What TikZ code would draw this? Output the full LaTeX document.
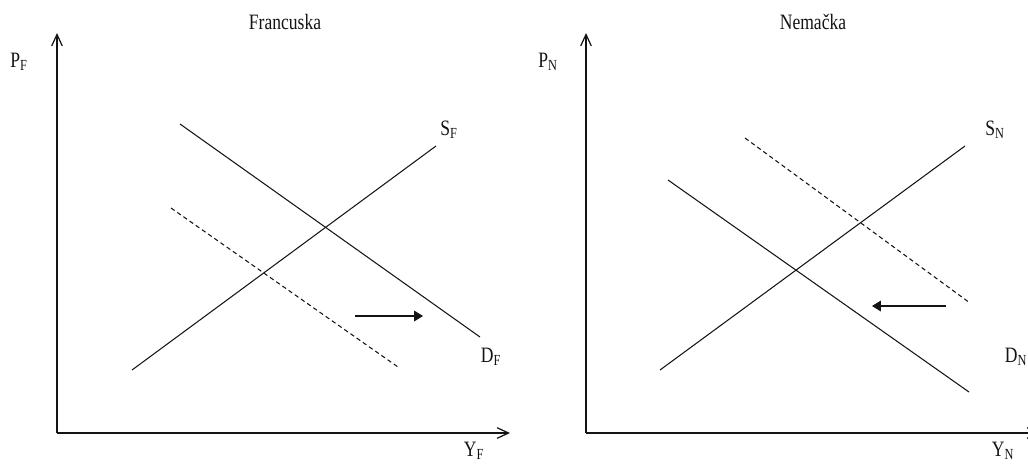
\documentclass[tikz,border=0pt]{standalone}
\usepackage{fontspec}
\setmainfont{Liberation Serif}
\usepackage{tikz}
\usetikzlibrary{arrows.meta}
\definecolor{linegray}{RGB}{20,20,20}

\tikzset{
  axis/.style={line width=0.7pt, -{Straight Barb[length=6.5pt, width=6pt]}},
  curve/.style={line width=0.6pt},
  shifted/.style={line width=0.6pt, dash pattern=on 2.5pt off 1.8pt},
  movearrow/.style={line width=0.7pt, -{Triangle[length=5pt, width=6pt]}},
  lbl/.style={font=\fontsize{12.5}{14}\selectfont, inner sep=0pt, xscale=0.8}
}

\begin{document}
\begin{tikzpicture}[x=0.02cm, y=-0.02cm, color=linegray]
  \useasboundingbox (0,0) rectangle (1028,464);
  % Francuska
  \coordinate (oF) at (57,433);
  \coordinate (yF) at (57,33);
  \coordinate (xF) at (510,433);
  \draw[axis] (oF) -- (yF);
  \draw[axis] (oF) -- (xF);
  \node[lbl] (titleF) at (285,22) {Francuska};
  \node[lbl] (pF) at (19,62) {P\textsubscript{F}};
  \node[lbl] (qF) at (474,451) {Y\textsubscript{F}};
  \coordinate (sF1) at (132,370);
  \coordinate (sF2) at (436,146);
  \draw[curve] (sF1) -- (sF2);
  \node[lbl] (sFl) at (449,130) {S\textsubscript{F}};
  \coordinate (dF1) at (180,124);
  \coordinate (dF2) at (480,337);
  \draw[curve] (dF1) -- (dF2);
  \node[lbl] (dFl) at (491,357) {D\textsubscript{F}};
  \coordinate (eF1) at (171,208);
  \coordinate (eF2) at (398,367);
  \draw[shifted] (eF1) -- (eF2);
  \coordinate (aF1) at (355,316);
  \coordinate (aF2) at (423,316);
  \draw[movearrow] (aF1) -- (aF2);
  % Nemacka
  \coordinate (oN) at (586,433);
  \coordinate (yN) at (586,33);
  \coordinate (xN) at (1040,433);
  \draw[axis] (oN) -- (yN);
  \draw[axis] (oN) -- (xN);
  \node[lbl] (titleN) at (813,22) {Nemačka};
  \node[lbl] (pN) at (548,62) {P\textsubscript{N}};
  \node[lbl] (qN) at (1003,451) {Y\textsubscript{N}};
  \coordinate (sN1) at (660,370);
  \coordinate (sN2) at (965,146);
  \draw[curve] (sN1) -- (sN2);
  \node[lbl] (sNl) at (995,130) {S\textsubscript{N}};
  \coordinate (dN1) at (668,180);
  \coordinate (dN2) at (969,392);
  \draw[curve] (dN1) -- (dN2);
  \node[lbl] (dNl) at (1016,357) {D\textsubscript{N}};
  \coordinate (eN1) at (745,138);
  \coordinate (eN2) at (970,303);
  \draw[shifted] (eN1) -- (eN2);
  \coordinate (aN1) at (946,306);
  \coordinate (aN2) at (872,306);
  \draw[movearrow] (aN1) -- (aN2);
\end{tikzpicture}
\end{document}
